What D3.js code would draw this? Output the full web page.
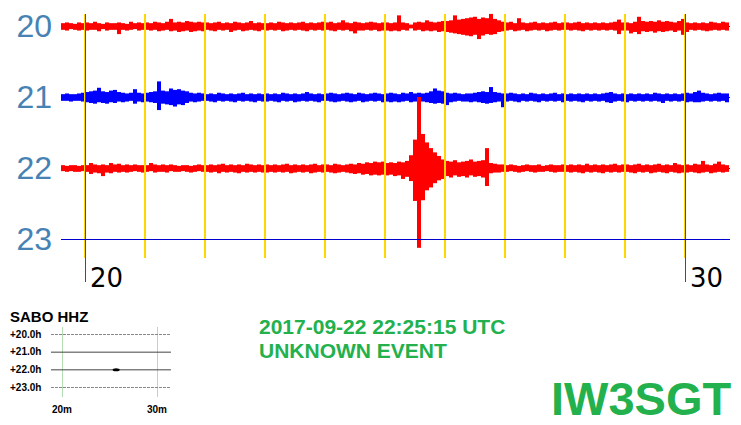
<!DOCTYPE html>
<html><head><meta charset="utf-8">
<script src="https://cdn.jsdelivr.net/npm/d3@7"></script>
<style>body{margin:0;background:#fff}svg{display:block}</style>
</head><body>
<script>
// ---------- data ----------
const rowHours = [20, 21, 22, 23];
const rowLabels = ["20", "21", "22", "23"];
const gridMinutes = [20, 21, 22, 23, 24, 25, 26, 27, 28, 29, 30];
const axisMinutes = [20, 30];
const axisLabels = ["20", "30"];
const traceStart = 19.6;       // minutes
const traceEnd = 30.75;
const binMinutes = 1 / 15;     // 4 s bins

const r20Hi = [4,5,4,3,5,4,
 5,4,6,4,3,5,4,4,5,4,3,6,4,5,4,
 5,4,6,5,4,6,10,5,6,5,7,6,5,6,5,
 5,4,5,6,4,5,4,6,5,4,5,7,4,5,4,
 4,5,4,6,5,4,5,4,5,6,4,5,4,5,6,
 5,6,4,5,8,5,4,6,5,4,5,6,5,4,5,
 5,4,5,15,5,4,2,5,6,5,8,6,5,6,7,
 7,8,15,9,10,11,12,13,10,12,11,17,10,8,6,
 5,6,4,11,5,4,5,6,4,5,4,5,6,4,5,
 5,4,5,6,4,5,4,5,4,5,4,5,6,9,5,
 5,4,6,13,7,6,7,6,8,6,7,6,5,7,10,
 5,4,5,4,5,4,6,5,4,6,5];
const r20Lo = [-4,-5,-3,-4,-5,-4,
 -5,-4,-4,-6,-3,-5,-4,-4,-10,-4,-5,-4,-3,-5,-4,
 -4,-5,-4,-6,-5,-4,-6,-5,-7,-6,-5,-7,-6,-5,-6,
 -4,-5,-6,-4,-5,-4,-7,-5,-4,-6,-5,-4,-5,-6,-4,
 -5,-4,-5,-4,-6,-5,-4,-5,-4,-5,-6,-4,-5,-4,-5,
 -4,-5,-6,-4,-5,-4,-6,-9,-5,-5,-4,-5,-4,-6,-5,
 -5,-6,-5,-6,-4,-5,-2,-5,-4,-6,-5,-6,-5,-7,-6,
 -7,-8,-9,-10,-11,-12,-13,-11,-17,-12,-10,-11,-10,-7,-6,
 -5,-4,-6,-5,-4,-6,-5,-4,-5,-4,-6,-5,-4,-5,-4,
 -4,-5,-4,-5,-6,-4,-5,-4,-5,-4,-5,-4,-5,-10,-5,
 -5,-9,-7,-10,-6,-7,-6,-8,-6,-7,-6,-5,-7,-5,-11,
 -7,-4,-5,-4,-5,-6,-5,-4,-5,-4,-5];

const r21Hi = [4,5,4,4,5,6,
 7,8,9,13,8,7,9,10,7,6,5,6,11,6,5,
 6,7,8,22,9,8,12,10,11,9,8,6,5,6,5,
 4,5,4,6,5,4,5,4,5,6,4,5,4,5,4,
 5,4,5,4,6,5,4,5,4,5,7,5,4,5,4,
 5,6,5,4,5,6,5,4,6,5,4,5,6,5,4,
 5,6,5,4,6,5,7,5,6,5,6,8,12,9,8,
 6,5,6,5,4,5,5,6,7,8,7,14,7,6,5,
 5,6,5,4,5,4,6,5,4,5,4,5,6,4,5,
 4,5,4,5,4,5,4,5,4,5,6,7,5,4,5,
 4,5,4,5,4,5,4,6,5,4,5,4,5,4,5,
 6,5,7,9,6,5,4,5,6,5,5];
const r21Lo = [-4,-4,-5,-4,-4,-5,
 -6,-7,-8,-6,-7,-8,-6,-7,-5,-6,-5,-4,-8,-5,-6,
 -5,-6,-7,-17,-8,-9,-10,-12,-9,-10,-7,-5,-6,-5,-4,
 -4,-5,-6,-4,-5,-4,-5,-6,-4,-5,-4,-5,-6,-4,-5,
 -5,-4,-5,-6,-4,-5,-4,-6,-5,-4,-5,-4,-5,-6,-4,
 -4,-5,-6,-5,-4,-5,-6,-5,-4,-6,-5,-4,-5,-4,-6,
 -5,-6,-5,-6,-5,-4,-6,-5,-6,-5,-6,-7,-8,-7,-8,
 -10,-6,-5,-4,-5,-5,-6,-5,-6,-7,-8,-7,-6,-5,-13,
 -5,-4,-5,-6,-4,-5,-4,-5,-6,-4,-5,-4,-5,-4,-6,
 -4,-5,-4,-5,-6,-4,-5,-4,-5,-4,-6,-7,-5,-4,-5,
 -6,-4,-5,-4,-5,-4,-5,-4,-5,-7,-4,-5,-4,-5,-4,
 -6,-5,-6,-6,-5,-4,-5,-4,-5,-4,-6];

const r22Hi = [4,3,4,4,3,4,
 4,7,5,4,5,4,7,5,6,4,5,4,5,4,4,
 4,7,5,4,5,4,5,4,3,4,4,3,4,5,4,
 4,5,4,5,6,4,5,4,5,4,6,5,4,5,4,
 5,4,5,4,5,6,4,5,4,5,4,5,6,4,5,
 5,4,6,5,4,5,6,5,7,6,8,7,9,8,9,
 7,8,7,9,8,10,18,40,100,48,36,28,22,17,12,
 10,9,11,8,9,10,12,9,10,11,28,7,6,5,5,
 4,5,4,3,4,5,4,4,5,3,4,5,4,4,5,
 4,5,4,5,4,6,4,5,4,5,4,5,6,4,5,
 5,4,5,6,4,5,4,5,6,4,5,4,7,5,4,
 5,4,6,5,10,5,4,6,9,5,4];
const r22Lo = [-3,-4,-3,-4,-4,-3,
 -4,-7,-5,-6,-10,-5,-6,-4,-5,-4,-5,-4,-3,-4,-5,
 -4,-3,-5,-4,-4,-5,-3,-4,-4,-3,-4,-5,-4,-3,-4,
 -4,-5,-4,-6,-4,-5,-4,-5,-6,-4,-5,-4,-5,-4,-5,
 -5,-4,-5,-4,-5,-4,-6,-5,-4,-5,-4,-6,-5,-4,-5,
 -4,-5,-6,-5,-4,-5,-6,-7,-6,-8,-7,-9,-8,-9,-8,
 -9,-8,-10,-9,-14,-11,-17,-45,-111,-44,-30,-26,-20,-16,-14,
 -10,-12,-9,-11,-10,-12,-9,-11,-10,-12,-24,-6,-5,-5,-4,
 -4,-3,-4,-5,-4,-3,-4,-5,-4,-4,-3,-4,-5,-4,-4,
 -4,-5,-4,-5,-6,-4,-5,-4,-5,-6,-4,-5,-4,-5,-4,
 -4,-5,-6,-4,-5,-4,-6,-5,-4,-5,-6,-4,-5,-6,-5,
 -5,-4,-5,-6,-5,-4,-6,-5,-4,-5,-4];

const traces = [
  {hour: 20, hi: r20Hi, lo: r20Lo, color: "#ff0000"},
  {hour: 21, hi: r21Hi, lo: r21Lo, color: "#0000ff"},
  {hour: 22, hi: r22Hi, lo: r22Lo, color: "#ff0000"}
];

// inset (helicorder thumbnail)
const insetStation = "SABO HHZ";
const insetRows = [20, 21, 22, 23];
const insetRowLabels = ["+20.0h", "+21.0h", "+22.0h", "+23.0h"];
const insetTickMinutes = [20, 30];
const insetTickLabels = ["20m", "30m"];
const insetSpan = [18.84, 31.47];
const insetEvent = {hour: 22, minute: 25.7};

const eventTitle = "2017-09-22 22:25:15 UTC";
const eventType = "UNKNOWN EVENT";
const callsign = "IW3SGT";

// ---------- drawing ----------
const W = 741, H = 425;
const svg = d3.select("body").append("svg").attr("width", W).attr("height", H);

const x = d3.scaleLinear().domain([20, 30]).range([85, 685]);
const y = d3.scaleLinear().domain([20, 23]).range([26, 239]);
const amp = d3.scaleLinear().domain([0, 100]).range([0, 71]);
const binW = x(20 + binMinutes) - x(20);

// baselines
svg.append("g").selectAll("line").data(rowHours).join("line")
  .attr("x1", x(traceStart)).attr("x2", x(traceEnd))
  .attr("y1", d => y(d) + 0.5).attr("y2", d => y(d) + 0.5)
  .attr("stroke", d => d === 23 ? "#0000cc" : "#0000ff").attr("stroke-width", 1);

// traces as min/max bars
traces.forEach(tr => {
  svg.append("g").attr("fill", tr.color).selectAll("rect")
    .data(tr.hi.map((h, i) => ({h, l: tr.lo[i], t: traceStart + i * binMinutes})))
    .join("rect")
    .attr("x", d => x(d.t))
    .attr("width", d => Math.min(binW, x(traceEnd) - x(d.t)))
    .attr("y", d => y(tr.hour) - amp(d.h))
    .attr("height", d => amp(d.h) - amp(d.l) + 1);
});

// minute grid (yellow)
svg.append("g").selectAll("line").data(gridMinutes).join("line")
  .attr("x1", d => x(d)).attr("x2", d => x(d))
  .attr("y1", 14).attr("y2", 258)
  .attr("stroke", "#ffd700").attr("stroke-width", 2);

// red ticks at labelled minutes
svg.append("g").selectAll("line").data(axisMinutes).join("line")
  .attr("x1", d => x(d) + 0.5).attr("x2", d => x(d) + 0.5)
  .attr("y1", 14).attr("y2", 282)
  .attr("stroke", "#ff0000").attr("stroke-width", 1);

// row 23 line on top
svg.append("line")
  .attr("x1", x(traceStart)).attr("x2", x(traceEnd))
  .attr("y1", y(23) + 0.5).attr("y2", y(23) + 0.5)
  .attr("stroke", "#0000cc").attr("stroke-width", 1);

// row labels
svg.append("g").selectAll("text").data(rowHours).join("text")
  .attr("x", 52).attr("y", d => y(d) + 10.5)
  .attr("text-anchor", "end")
  .attr("font-family", "Liberation Sans, Arial, sans-serif")
  .attr("font-size", 32).attr("fill", "#4682b4")
  .text((d, i) => rowLabels[i]);

// axis labels
svg.append("g").selectAll("text").data(axisMinutes).join("text")
  .attr("x", d => x(d) + 5).attr("y", 287)
  .attr("font-family", "DejaVu Sans, Verdana, sans-serif")
  .attr("font-size", 26).attr("fill", "#000")
  .text((d, i) => axisLabels[i]);

// ---------- inset ----------
const xi = d3.scaleLinear().domain([20, 30]).range([62, 157]);
const yi = d3.scaleLinear().domain([20, 23]).range([334, 387]);
const bold = "Liberation Sans, Arial, sans-serif";

svg.append("text").attr("x", 10).attr("y", 322)
  .attr("font-family", bold).attr("font-weight", "bold").attr("font-size", 15)
  .text(insetStation);

svg.append("g").selectAll("line").data(insetTickMinutes).join("line")
  .attr("x1", d => xi(d) + 0.5).attr("x2", d => xi(d) + 0.5)
  .attr("y1", 327).attr("y2", 397)
  .attr("stroke", "#b3dcb3").attr("stroke-width", 1);

svg.append("g").selectAll("line").data(insetRows).join("line")
  .attr("x1", xi(insetSpan[0])).attr("x2", xi(insetSpan[1]))
  .attr("y1", d => yi(d) + 0.5).attr("y2", d => yi(d) + 0.5)
  .attr("stroke", d => (d === 20 || d === 23) ? "#888" : "#444")
  .attr("stroke-dasharray", d => (d === 20 || d === 23) ? "3,1" : null)
  .attr("stroke-width", 1);

svg.append("ellipse")
  .attr("cx", xi(insetEvent.minute)).attr("cy", yi(insetEvent.hour) + 0.5)
  .attr("rx", 3.5).attr("ry", 1.5).attr("fill", "#000");

svg.append("g").selectAll("text").data(insetRows).join("text")
  .attr("x", 10).attr("y", d => yi(d) + 3.5)
  .attr("font-family", bold).attr("font-weight", "bold").attr("font-size", 10)
  .text((d, i) => insetRowLabels[i]);

svg.append("g").selectAll("text").data(insetTickMinutes).join("text")
  .attr("x", d => xi(d)).attr("y", 413).attr("text-anchor", "middle")
  .attr("font-family", bold).attr("font-weight", "bold").attr("font-size", 10)
  .text((d, i) => insetTickLabels[i]);

// ---------- titles ----------
const green = "#22b14c";
svg.append("text").attr("x", 259).attr("y", 334)
  .attr("font-family", bold).attr("font-weight", "bold").attr("font-size", 21)
  .attr("fill", green).text(eventTitle);
svg.append("text").attr("x", 259).attr("y", 358)
  .attr("font-family", bold).attr("font-weight", "bold").attr("font-size", 21)
  .attr("fill", green).text(eventType);
svg.append("text").attr("x", 551).attr("y", 415)
  .attr("font-family", bold).attr("font-weight", "bold").attr("font-size", 47)
  .attr("fill", green).text(callsign);
</script>
</body></html>
